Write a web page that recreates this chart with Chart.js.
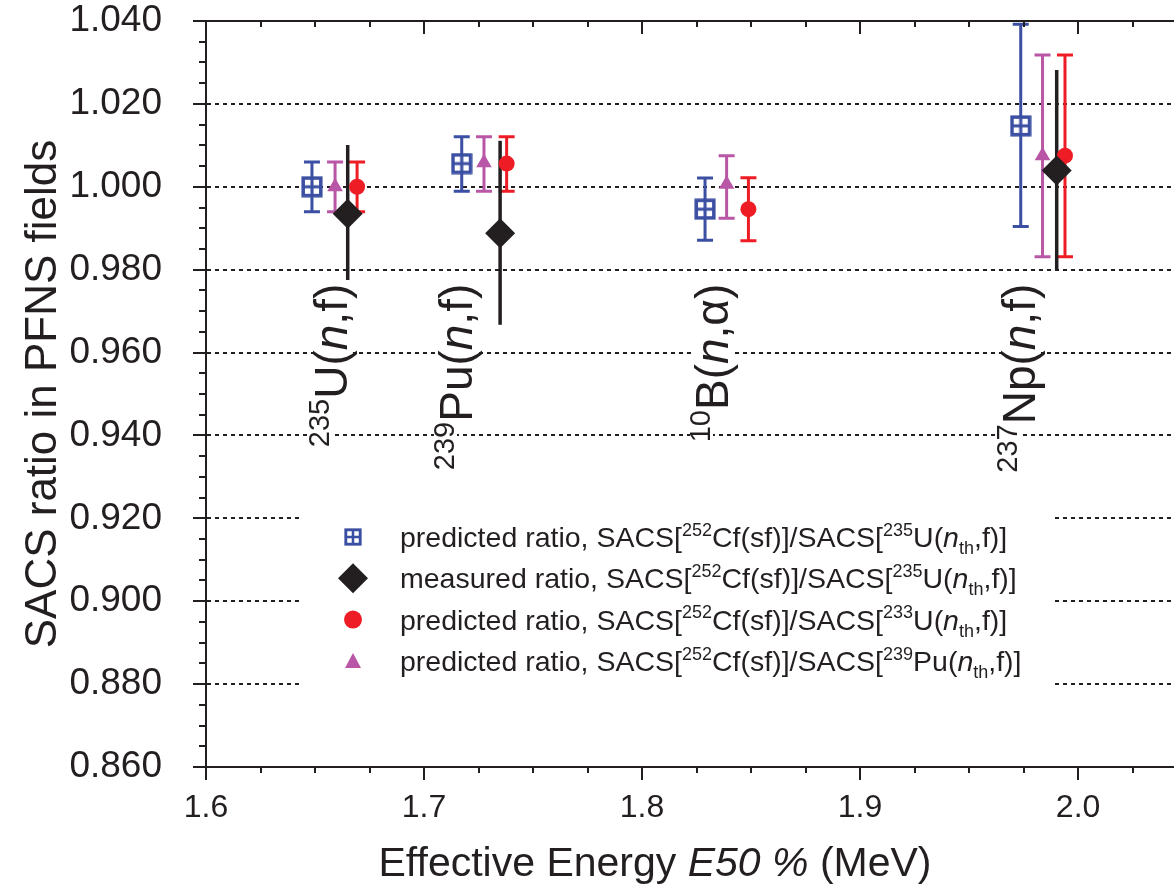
<!DOCTYPE html>
<html>
<head>
<meta charset="utf-8">
<script src="https://cdn.jsdelivr.net/npm/chart.js@4.4.1/dist/chart.umd.min.js"></script>
<style>
  html, body { margin: 0; padding: 0; background: #fff; }
  #wrap { width: 1174px; height: 888px; }
</style>
</head>
<body>
<div id="wrap"><canvas id="sacsChart" width="1174" height="888"></canvas></div>
<script>
// group labels written along the points (rotated)
const reactionMass = ["235", "239", "10", "237"];
const reactionName = ["U(", "Pu(", "B(", "Np("];
const reactionOut = [",f)", ",f)", ",\u03b1)", ",f)"];
const labelX = [1.6647, 1.722, 1.8394, 1.9803];
const labelTopY = 0.9766;

// predicted ratio, 235U(nth,f) reference
const blueX = [1.6486, 1.7173, 1.8289, 1.9737];
const blueY = [1.000, 1.0056, 0.9946, 1.0147];
const blueLo = [0.994, 0.9989, 0.9871, 0.9904];
const blueHi = [1.006, 1.0121, 1.0021, 1.0392];

// predicted ratio, 239Pu(nth,f) reference
const magX = [1.6592, 1.7275, 1.8388, 1.9837];
const magY = [1.000, 1.0058, 1.0006, 1.0075];
const magLo = [0.994, 0.9989, 0.9924, 0.9831];
const magHi = [1.006, 1.0121, 1.0075, 1.0318];

// predicted ratio, 233U(nth,f) reference
const redX = [1.6693, 1.7379, 1.8488, 1.9940];
const redY = [1.000, 1.0056, 0.9946, 1.0075];
const redLo = [0.994, 0.9989, 0.9870, 0.9831];
const redHi = [1.006, 1.0121, 1.0022, 1.0318];

// measured ratio, 235U(nth,f) reference
const blackX = [1.6650, 1.7349, 1.9902];
const blackY = [0.9935, 0.9888, 1.0039];
const blackLo = [0.9775, 0.9667, 0.9798];
const blackHi = [1.0101, 1.0111, 1.0282];

const yTicks = [0.86, 0.88, 0.90, 0.92, 0.94, 0.96, 0.98, 1.00, 1.02, 1.04];
const xTicks = [1.6, 1.7, 1.8, 1.9, 2.0];

const BLUE = "#3b4fa3";
const MAG = "#b957a6";
const RED = "#ee1d25";
const BLACK = "#231f20";
const FONT = "'Liberation Sans', Arial, Helvetica, sans-serif";

function makeBoxPlus(size) {
  const c = document.createElement("canvas");
  c.width = size; c.height = size;
  const g = c.getContext("2d");
  const s = size;
  g.fillStyle = "#fff";
  g.fillRect(1, 1, s - 2, s - 2);
  g.strokeStyle = BLUE;
  g.lineWidth = s * 0.16;
  g.strokeRect(s * 0.1, s * 0.1, s * 0.8, s * 0.8);
  g.lineWidth = s * 0.14;
  g.beginPath();
  g.moveTo(s / 2, s * 0.1); g.lineTo(s / 2, s * 0.9);
  g.moveTo(s * 0.1, s / 2); g.lineTo(s * 0.9, s / 2);
  g.stroke();
  return c;
}
const boxPlus = makeBoxPlus(22);
const boxPlusSmall = makeBoxPlus(18);

function pts(xs, ys) {
  return xs.map((x, i) => ({ x: x, y: ys[i] }));
}

// text parts: [text, kind] with kind "" | "i" | "sup" | "sub"
function partFont(k, size) {
  if (k === "sup" || k === "sub") return Math.round(size * 0.62) + "px " + FONT;
  if (k === "i") return "italic " + size + "px " + FONT;
  return size + "px " + FONT;
}
function richWidth(ctx, parts, size) {
  let w = 0;
  parts.forEach(([t, k]) => {
    ctx.font = partFont(k, size);
    w += ctx.measureText(t).width;
  });
  return w;
}
function drawRich(ctx, parts, x, y, size, bg) {
  let cx = x;
  parts.forEach(([t, k]) => {
    ctx.font = partFont(k, size);
    let dy = 0;
    if (k === "sup") dy = -size * 0.4;
    if (k === "sub") dy = size * 0.25;
    const w = ctx.measureText(t).width;
    if (bg) {
      const h = (k === "sup" || k === "sub") ? size * 0.5 : size * 0.85;
      const keep = ctx.fillStyle;
      ctx.fillStyle = "#fff";
      ctx.fillRect(cx - 1, y + dy - h * 0.85, w + 2, h);
      ctx.fillStyle = keep;
    }
    ctx.fillText(t, cx, y + dy);
    cx += w;
  });
  return cx;
}

const legendRows = [
  { marker: "box", parts: [["predicted ratio, SACS[", ""], ["252", "sup"], ["Cf(sf)]/SACS[", ""], ["235", "sup"], ["U(", ""], ["n", "i"], ["th", "sub"], [",f)]", ""]] },
  { marker: "diamond", parts: [["measured ratio, SACS[", ""], ["252", "sup"], ["Cf(sf)]/SACS[", ""], ["235", "sup"], ["U(", ""], ["n", "i"], ["th", "sub"], [",f)]", ""]] },
  { marker: "circle", parts: [["predicted ratio, SACS[", ""], ["252", "sup"], ["Cf(sf)]/SACS[", ""], ["233", "sup"], ["U(", ""], ["n", "i"], ["th", "sub"], [",f)]", ""]] },
  { marker: "triangle", parts: [["predicted ratio, SACS[", ""], ["252", "sup"], ["Cf(sf)]/SACS[", ""], ["239", "sup"], ["Pu(", ""], ["n", "i"], ["th", "sub"], [",f)]", ""]] }
];

const reactionLabels = {
  id: "reactionLabels",
  beforeDatasetsDraw(chart) {
    const { ctx, scales: { x, y } } = chart;
    const size = 46;
    ctx.save();
    ctx.fillStyle = BLACK;
    ctx.textBaseline = "alphabetic";
    ctx.textAlign = "left";
    reactionMass.forEach((m, i) => {
      const parts = [[m, "sup"], [reactionName[i], ""], ["n", "i"], [reactionOut[i], ""]];
      const w = richWidth(ctx, parts, size);
      const px = x.getPixelForValue(labelX[i]);
      const py = y.getPixelForValue(labelTopY);
      ctx.save();
      ctx.translate(px, py);
      ctx.rotate(-Math.PI / 2);
      ctx.fillStyle = BLACK;
      drawRich(ctx, parts, -w, 0, size, true);
      ctx.restore();
    });
    ctx.restore();
  }
};

const errorBars = {
  id: "errorBars",
  beforeDatasetsDraw(chart) {
    const { ctx, scales: { x, y } } = chart;
    ctx.save();
    chart.data.datasets.forEach((ds) => {
      ctx.strokeStyle = ds.barColor;
      ctx.lineWidth = ds.barWidth;
      ds.data.forEach((p, i) => {
        const px = x.getPixelForValue(p.x);
        const top = y.getPixelForValue(ds.errHi[i]);
        const bot = y.getPixelForValue(ds.errLo[i]);
        ctx.beginPath();
        ctx.moveTo(px, top);
        ctx.lineTo(px, bot);
        if (ds.capHalf > 0) {
          ctx.moveTo(px - ds.capHalf, top); ctx.lineTo(px + ds.capHalf, top);
          ctx.moveTo(px - ds.capHalf, bot); ctx.lineTo(px + ds.capHalf, bot);
        }
        ctx.stroke();
      });
    });
    ctx.restore();
  }
};

const frame = {
  id: "frame",
  afterDraw(chart) {
    const { ctx, chartArea: a, scales: { x, y } } = chart;
    ctx.save();
    ctx.strokeStyle = BLACK;
    ctx.lineWidth = 2;
    // top border
    ctx.beginPath();
    ctx.moveTo(a.left, a.top); ctx.lineTo(a.right, a.top);
    ctx.stroke();
    // y ticks (outside, minor every 0.005)
    ctx.beginPath();
    for (let k = 0; k <= 36; k++) {
      const v = 0.86 + k * 0.005;
      const py = Math.round(y.getPixelForValue(v));
      const len = k % 4 === 0 ? 13 : 7;
      ctx.moveTo(a.left - len, py); ctx.lineTo(a.left + (k % 4 === 0 ? 2 : 0), py);
    }
    // x ticks (outside at bottom, inside at top)
    for (let k = 0; k <= 17; k++) {
      const v = 1.6 + k * 0.025;
      const px = Math.round(x.getPixelForValue(v));
      if (px > a.right) break;
      const len = k % 4 === 0 ? 13 : 6;
      ctx.moveTo(px, a.bottom); ctx.lineTo(px, a.bottom + len);
      ctx.moveTo(px, a.top); ctx.lineTo(px, a.top + len);
    }
    ctx.stroke();

    // axis titles
    ctx.fillStyle = BLACK;
    ctx.textBaseline = "alphabetic";
    ctx.textAlign = "left";
    const xt = [["Effective Energy ", ""], ["E50 %", "i"], [" (MeV)", ""]];
    const xw = richWidth(ctx, xt, 41);
    drawRich(ctx, xt, 655 - xw / 2, 876, 41);
    ctx.save();
    ctx.translate(56, (a.top + a.bottom) / 2);
    ctx.rotate(-Math.PI / 2);
    ctx.textAlign = "center";
    ctx.font = "44px " + FONT;
    ctx.fillText("SACS ratio in PFNS fields", 0, 0);
    ctx.restore();

    // legend
    ctx.fillStyle = "#fff";
    ctx.fillRect(303, 505, 748, 200);
    legendRows.forEach((row, i) => {
      const my = 537 + i * 41.3;
      const mx = 353;
      ctx.fillStyle = BLACK;
      if (row.marker === "box") {
        ctx.drawImage(boxPlusSmall, mx - 9, my - 9);
      } else if (row.marker === "diamond") {
        ctx.beginPath();
        ctx.moveTo(mx, my - 15); ctx.lineTo(mx + 15, my); ctx.lineTo(mx, my + 15); ctx.lineTo(mx - 15, my);
        ctx.closePath(); ctx.fill();
      } else if (row.marker === "circle") {
        ctx.fillStyle = RED;
        ctx.beginPath(); ctx.arc(mx, my, 9, 0, Math.PI * 2); ctx.fill();
      } else {
        ctx.fillStyle = MAG;
        ctx.beginPath();
        ctx.moveTo(mx, my - 8); ctx.lineTo(mx + 8, my + 7); ctx.lineTo(mx - 8, my + 7);
        ctx.closePath(); ctx.fill();
      }
      ctx.fillStyle = BLACK;
      drawRich(ctx, row.parts, 400, my + 10, 28.5);
    });
    ctx.restore();
  }
};

function noPad(scale) {
  scale.paddingTop = 0;
  scale.paddingBottom = 0;
  scale.paddingLeft = 0;
  scale.paddingRight = 0;
}

const ctx = document.getElementById("sacsChart").getContext("2d");

const config = {
  type: "scatter",
  data: {
    datasets: [
      {
        label: "predicted 235U",
        data: pts(blueX, blueY),
        errLo: blueLo, errHi: blueHi,
        barColor: BLUE, barWidth: 3, capHalf: 8,
        pointStyle: boxPlus,
        pointRadius: 11,
        order: 3
      },
      {
        label: "predicted 239Pu",
        data: pts(magX, magY),
        errLo: magLo, errHi: magHi,
        barColor: MAG, barWidth: 3, capHalf: 8,
        pointStyle: "triangle",
        pointRadius: 9,
        backgroundColor: MAG,
        borderColor: MAG,
        borderWidth: 0,
        order: 2
      },
      {
        label: "predicted 233U",
        data: pts(redX, redY),
        errLo: redLo, errHi: redHi,
        barColor: RED, barWidth: 3, capHalf: 8,
        pointStyle: "circle",
        pointRadius: 8,
        backgroundColor: RED,
        borderColor: RED,
        borderWidth: 0,
        order: 1
      },
      {
        label: "measured 235U",
        data: pts(blackX, blackY),
        errLo: blackLo, errHi: blackHi,
        barColor: BLACK, barWidth: 3.5, capHalf: 0,
        pointStyle: "rectRot",
        pointRadius: 15,
        backgroundColor: BLACK,
        borderColor: BLACK,
        borderWidth: 0,
        order: 0
      }
    ]
  },
  options: {
    responsive: false,
    animation: false,
    events: [],
    layout: { autoPadding: false, padding: { top: 21, right: 0, left: 0, bottom: 0 } },
    plugins: {
      legend: { display: false },
      tooltip: { enabled: false }
    },
    scales: {
      x: {
        type: "linear",
        min: 1.6,
        max: 2.044,
        afterFit(scale) { scale.height = 121; noPad(scale); },
        afterBuildTicks(scale) { scale.ticks = xTicks.map((v) => ({ value: v })); },
        ticks: {
          callback: (v) => v.toFixed(1),
          font: { size: 32, family: FONT },
          color: BLACK,
          padding: 22,
          maxRotation: 0
        },
        grid: { display: false, drawTicks: false },
        border: { display: true, color: BLACK, width: 2 }
      },
      y: {
        type: "linear",
        min: 0.86,
        max: 1.04,
        afterFit(scale) { scale.width = 206; noPad(scale); },
        afterBuildTicks(scale) { scale.ticks = yTicks.map((v) => ({ value: v })); },
        ticks: {
          callback: (v) => v.toFixed(3),
          font: { size: 37, family: FONT },
          color: BLACK,
          padding: 44
        },
        grid: {
          drawTicks: false,
          lineWidth: 2,
          color: (c) => (c.tick && (c.index === 0 || c.index === yTicks.length - 1)) ? "rgba(0,0,0,0)" : BLACK
        },
        border: { display: true, color: BLACK, width: 2, dash: [4, 4] }
      }
    }
  },
  plugins: [reactionLabels, errorBars, frame]
};

const sacsChart = new Chart(ctx, config);
</script>
</body>
</html>
